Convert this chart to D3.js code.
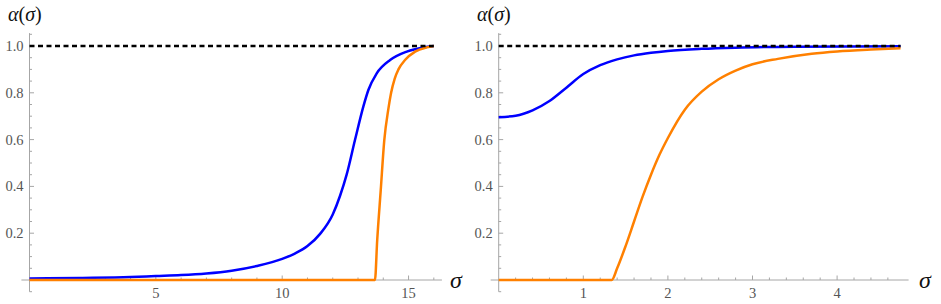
<!DOCTYPE html>
<html>
<head>
<meta charset="utf-8">
<script src="https://cdn.jsdelivr.net/npm/d3@7"></script>
<style>
  html, body { margin: 0; padding: 0; background: #fff; }
  svg { display: block; }
</style>
</head>
<body>
<svg id="chart" width="941" height="304"></svg>
<script>
// ---- Data ----
// Left panel
const leftBlueX = [0, 2, 4, 5, 6, 7, 8, 9, 10, 10.5, 11, 11.5, 12, 12.29, 12.55, 12.88, 13.21, 13.41, 13.74, 14.27, 14.93, 15.58, 16];
const leftBlueY = [0.006, 0.009, 0.013, 0.017, 0.021, 0.028, 0.04, 0.06, 0.09, 0.113, 0.145, 0.197, 0.28, 0.36, 0.45, 0.598, 0.741, 0.812, 0.883, 0.94, 0.976, 0.994, 1.0];
const leftOrangeX = [0, 13.67, 13.76, 13.9, 14.04, 14.2, 14.31, 14.45, 14.6, 14.86, 15.26, 15.72, 16];
const leftOrangeY = [0, 0, 0.171, 0.385, 0.598, 0.73, 0.8, 0.86, 0.9, 0.94, 0.976, 0.994, 1.0];
// Right panel
const rightBlueX = [0, 0.2, 0.4, 0.6, 0.8, 1.0, 1.2, 1.4, 1.6, 1.8, 2.0, 2.4, 2.8, 3.5, 4.75];
const rightBlueY = [0.696, 0.702, 0.725, 0.765, 0.822, 0.88, 0.918, 0.943, 0.96, 0.971, 0.979, 0.988, 0.993, 0.997, 0.999];
const rightOrangeX = [0, 1.336, 1.4, 1.5, 1.6, 1.7, 1.8, 1.9, 2.0, 2.2, 2.4, 2.6, 2.8, 3.0, 3.3, 3.7, 4.0, 4.4, 4.75];
const rightOrangeY = [0, 0, 0.05, 0.145, 0.25, 0.355, 0.45, 0.535, 0.607, 0.728, 0.805, 0.858, 0.895, 0.922, 0.945, 0.967, 0.977, 0.985, 0.99];
// Ticks
const leftXMajor = [5, 10, 15];
const rightXMajor = [1, 2, 3, 4];
const yMajor = [0.2, 0.4, 0.6, 0.8, 1.0];
const yTitle = "α(σ)";
const xTitle = "σ";

const svg = d3.select("#chart");
const blue = "#0000ff", orange = "#ff8000";
const axisColor = "#a6a6a6", labelColor = "#555";
const serif = "Liberation Serif";

const y = d3.scaleLinear().domain([0, 1]).range([280, 46]);

function panel(opts) {
  const { xMax, xRange, major, minorStep, blueX, blueY, orangeX, orangeY, titleX, sigmaX, fmt } = opts;
  const x = d3.scaleLinear().domain([0, xMax]).range(xRange);
  const pad = xMax * 0.02;
  const g = svg.append("g");

  g.append("line")
    .attr("x1", x(-pad)).attr("x2", x(xMax + pad))
    .attr("y1", y(0)).attr("y2", y(0))
    .attr("stroke", axisColor).attr("stroke-width", 1);
  g.append("line")
    .attr("x1", x(0)).attr("x2", x(0))
    .attr("y1", y(-0.05)).attr("y2", y(1.055))
    .attr("stroke", axisColor).attr("stroke-width", 1);

  const minors = d3.range(0, xMax + 1e-9, minorStep).filter(v => v > 0);
  g.selectAll(null).data(minors).enter().append("line")
    .attr("x1", d => x(d)).attr("x2", d => x(d))
    .attr("y1", y(0)).attr("y2", d => y(0) - (major.some(m => Math.abs(m - d) < 1e-6) ? 4.5 : 2.5))
    .attr("stroke", axisColor).attr("stroke-width", 1);
  g.selectAll(null).data(major).enter().append("text")
    .attr("x", d => x(d)).attr("y", 297.5)
    .attr("text-anchor", "middle")
    .attr("font-family", serif)
    .attr("font-size", 14.5)
    .attr("fill", labelColor)
    .text(d => fmt(d));

  const yMinors = d3.range(-0.05, 1.06, 0.05);
  g.selectAll(null).data(yMinors).enter().append("line")
    .attr("x1", x(0)).attr("x2", d => x(0) + (yMajor.some(m => Math.abs(m - d) < 1e-6) ? 4.5 : 2.5))
    .attr("y1", d => y(d)).attr("y2", d => y(d))
    .attr("stroke", axisColor).attr("stroke-width", 1);
  g.selectAll(null).data(yMajor).enter().append("text")
    .attr("x", x(0) - 6).attr("y", d => y(d))
    .attr("dy", "0.34em")
    .attr("text-anchor", "end")
    .attr("font-family", serif)
    .attr("font-size", 14.5)
    .attr("fill", labelColor)
    .text(d => d3.format(".1f")(d));

  const line = d3.line().x(d => x(d[0])).y(d => y(d[1])).curve(d3.curveMonotoneX);
  g.append("path").attr("d", line(d3.zip(blueX, blueY))).attr("fill", "none")
    .attr("stroke", blue).attr("stroke-width", 2.5);
  g.append("path").attr("d", line(d3.zip(orangeX, orangeY))).attr("fill", "none")
    .attr("stroke", orange).attr("stroke-width", 2.5);

  g.append("line")
    .attr("x1", x(0)).attr("x2", x(xMax))
    .attr("y1", y(1)).attr("y2", y(1))
    .attr("stroke", "#000").attr("stroke-width", 2.3)
    .attr("stroke-dasharray", "5,3.5");

  const t = g.append("text")
    .attr("x", titleX).attr("y", 21)
    .attr("font-family", serif)
    .attr("font-size", 20)
    .attr("fill", "#111");
  t.append("tspan").attr("font-style", "italic").text(yTitle[0]);
  t.append("tspan").text(yTitle[1]);
  t.append("tspan").attr("font-style", "italic").text(yTitle[2]);
  t.append("tspan").text(yTitle[3]);

  g.append("text")
    .attr("x", sigmaX).attr("y", 288)
    .attr("font-family", serif)
    .attr("font-size", 24)
    .attr("font-style", "italic")
    .attr("fill", "#111")
    .text(xTitle);
}

panel({
  xMax: 16, xRange: [29.5, 29.5 + 16 * 25.27], major: leftXMajor, minorStep: 1,
  blueX: leftBlueX, blueY: leftBlueY, orangeX: leftOrangeX, orangeY: leftOrangeY,
  titleX: 8, sigmaX: 450, fmt: d => String(d)
});
panel({
  xMax: 4.75, xRange: [498.7, 498.7 + 4.75 * 84.6], major: rightXMajor, minorStep: 0.2,
  blueX: rightBlueX, blueY: rightBlueY, orangeX: rightOrangeX, orangeY: rightOrangeY,
  titleX: 477, sigmaX: 919, fmt: d => String(d)
});
</script>
</body>
</html>
